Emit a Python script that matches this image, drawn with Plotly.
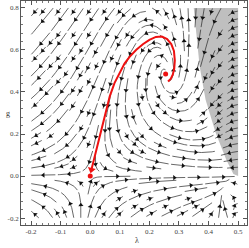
import math
import numpy as np
import plotly.graph_objects as go

# ---------------- data ----------------
LAM_RANGE = [-0.2, 0.5]          # stream-plot region (lambda)
G_RANGE = [-0.2, 0.8]            # stream-plot region (g)

fp_lam = [0.0, 0.255]            # Gaussian and non-Gaussian fixed points
fp_g = [0.0, 0.486]

red_lam = [0.004, 0.012, 0.022, 0.032, 0.042, 0.054, 0.066, 0.082, 0.099, 0.116,
           0.133, 0.155, 0.178, 0.200, 0.222, 0.242, 0.260, 0.274, 0.283, 0.286,
           0.284, 0.279, 0.272, 0.263]
red_g = [0.030, 0.075, 0.132, 0.190, 0.247, 0.315, 0.379, 0.442, 0.492, 0.535,
         0.567, 0.600, 0.627, 0.648, 0.662, 0.664, 0.652, 0.628, 0.595, 0.550,
         0.510, 0.482, 0.462, 0.450]

grey_lam = [0.350, 0.358, 0.370, 0.390, 0.424, 0.460, 0.484, 0.500, 0.500]
grey_g = [0.800, 0.680, 0.521, 0.363, 0.206, 0.078, 0.010, 0.000, 0.800]

x_tickvals = [-0.2, -0.1, 0.0, 0.1, 0.2, 0.3, 0.4, 0.5]
x_ticktext = ["-0.2", "-0.1", "0.0", "0.1", "0.2", "0.3", "0.4", "0.5"]
y_tickvals = [-0.2, 0.0, 0.2, 0.4, 0.6, 0.8]
y_ticktext = ["-0.2", "0.0", "0.2", "0.4", "0.6", "0.8"]

# flow model (Einstein-Hilbert type beta functions, coefficients tuned to the picture)
A_COEF = 6.755
Q_COEF = 8.30

# ---------------- vector field ----------------
def field(l, g):
    u = 1.0 / (1.0 - 2.0 * l)
    B1 = (5 * u - Q_COEF * u * u - 7) / (3 * math.pi)
    B2 = (6 * u * u - 5 * u) / (12 * math.pi)
    D = 1.0 - g * B2
    if abs(D) < 1e-9:
        return None
    eta = g * B1 / D
    bg = (2 + eta) * g
    bl = -(2 - eta) * l + g / (2 * math.pi) * (A_COEF * u - 4 - 5.0 / 6.0 * eta * u)
    return -bl, -bg, D   # arrows point towards the infrared

SX = 296.0      # px per unit lambda
SY = 210.5      # px per unit g
W = (LAM_RANGE[1] - LAM_RANGE[0]) * SX
H = (G_RANGE[1] - G_RANGE[0]) * SY


def to_data(X, Y):
    return LAM_RANGE[0] + X / SX, G_RANGE[0] + Y / SY


def direc(X, Y):
    l, g = to_data(X, Y)
    if l >= 0.4995:
        return None
    r = field(l, g)
    if r is None:
        return None
    fl, fg, D = r
    dx, dy = fl * SX, fg * SY
    n = math.hypot(dx, dy)
    if n == 0:
        return None
    return dx / n, dy / n, D


NX, NY = 27, 27
CW, CH = W / NX, H / NY
mask = np.zeros((NY, NX), dtype=bool)
fp_px = [((a - LAM_RANGE[0]) * SX, (b - G_RANGE[0]) * SY) for a, b in zip(fp_lam, fp_g)]


def cell(X, Y):
    return (min(NX - 1, max(0, int(X / CW))), min(NY - 1, max(0, int(Y / CH))))


def trace(X0, Y0, sign, visited, D0):
    pts = []
    X, Y = X0, Y0
    cur = cell(X, Y)
    h = 0.6
    for _ in range(3000):
        r = direc(X, Y)
        if r is None:
            break
        dx, dy, D = r
        dx *= sign; dy *= sign
        r2 = direc(X + 0.5 * h * dx, Y + 0.5 * h * dy)
        if r2 is None:
            break
        dx2, dy2, D2 = r2
        dx2 *= sign; dy2 *= sign
        if dx * dx2 + dy * dy2 < 0.5:
            break
        Xn, Yn = X + h * dx2, Y + h * dy2
        if Xn < 0 or Xn > W or Yn < 0 or Yn > H:
            break
        rn = direc(Xn, Yn)
        if rn is None or (rn[2] > 0) != (D0 > 0):
            break
        c = cell(Xn, Yn)
        if c != cur:
            if mask[c[1], c[0]] or c in visited:
                break
            visited.add(c)
            cur = c
        X, Y = Xn, Yn
        pts.append((X, Y))
        if any(math.hypot(X - fx, Y - fy) < 2.5 for fx, fy in fp_px):
            break
    return pts


# spiral seed order from the boundary inwards
order = []
x0, x1, y0, y1 = 0, NX - 1, 0, NY - 1
while x0 <= x1 and y0 <= y1:
    for i in range(x0, x1 + 1):
        order.append((i, y0))
    for j in range(y0 + 1, y1 + 1):
        order.append((x1, j))
    if y1 > y0:
        for i in range(x1 - 1, x0 - 1, -1):
            order.append((i, y1))
    if x1 > x0:
        for j in range(y1 - 1, y0, -1):
            order.append((x0, j))
    x0 += 1; x1 -= 1; y0 += 1; y1 -= 1

lines = []
for (i, j) in order:
    if mask[j, i]:
        continue
    Xs, Ys = (i + 0.5) * CW, (j + 0.5) * CH
    r = direc(Xs, Ys)
    if r is None:
        continue
    D0 = r[2]
    visited = {(i, j)}
    back = trace(Xs, Ys, -1, visited, D0)
    fwd = trace(Xs, Ys, 1, visited, D0)
    pts = back[::-1] + [(Xs, Ys)] + fwd
    if len(pts) < 3:
        continue
    P = np.array(pts)
    L = np.sum(np.hypot(np.diff(P[:, 0]), np.diff(P[:, 1])))
    if L < 7:
        continue
    for c in visited:
        mask[c[1], c[0]] = True
    lines.append(P)

# split into Mathematica-like pieces, one arrowhead per piece
seg_x, seg_y = [], []
arr_x, arr_y, arr_ang = [], [], []
SEG = 26.0
GAP = 2.5
for P in lines:
    s = np.concatenate([[0], np.cumsum(np.hypot(np.diff(P[:, 0]), np.diff(P[:, 1])))])
    L = s[-1]
    n = max(1, int(round(L / SEG)))
    ls = L / n
    for k in range(n):
        a = k * ls + (GAP / 2 if k > 0 else 0)
        b = (k + 1) * ls - (GAP / 2 if k < n - 1 else 0)
        ss = np.concatenate([[a], s[(s > a) & (s < b)], [b]])
        xs = np.interp(ss, s, P[:, 0]); ys = np.interp(ss, s, P[:, 1])
        for X, Y in zip(xs, ys):
            l, g = to_data(X, Y)
            seg_x.append(l); seg_y.append(g)
        seg_x.append(None); seg_y.append(None)
        m = 0.5 * (a + b)
        Xm = np.interp(m, s, P[:, 0]); Ym = np.interp(m, s, P[:, 1])
        X1 = np.interp(m + 1.0, s, P[:, 0]); Y1 = np.interp(m + 1.0, s, P[:, 1])
        X0 = np.interp(m - 1.0, s, P[:, 0]); Y0 = np.interp(m - 1.0, s, P[:, 1])
        l, g = to_data(Xm, Ym)
        arr_x.append(l); arr_y.append(g)
        arr_ang.append(math.degrees(math.atan2(X1 - X0, Y1 - Y0)))

# ---------------- figure ----------------
fig = go.Figure()
fig.add_trace(go.Scatter(x=grey_lam, y=grey_g, fill="toself", fillcolor="#bfbfbf",
                         mode="lines", line=dict(width=0), hoverinfo="skip", showlegend=False))
fig.add_trace(go.Scatter(x=seg_x, y=seg_y, mode="lines",
                         line=dict(color="#262626", width=0.7), hoverinfo="skip", showlegend=False))
fig.add_trace(go.Scatter(x=arr_x, y=arr_y, mode="markers",
                         marker=dict(symbol="triangle-up", size=4.5, color="#111111",
                                     angle=arr_ang, line=dict(width=0)),
                         hoverinfo="skip", showlegend=False))
fig.add_trace(go.Scatter(x=red_lam, y=red_g, mode="lines",
                         line=dict(color="#ee1111", width=2), hoverinfo="skip", showlegend=False))
# red arrowhead near the Gaussian fixed point
dxp = (red_lam[0] - red_lam[1]) * SX
dyp = (red_g[0] - red_g[1]) * SY
fig.add_trace(go.Scatter(x=[red_lam[0]], y=[red_g[0]], mode="markers",
                         marker=dict(symbol="triangle-up", size=7, color="#ee1111",
                                     angle=[math.degrees(math.atan2(dxp, dyp))], line=dict(width=0)),
                         hoverinfo="skip", showlegend=False))
fig.add_trace(go.Scatter(x=fp_lam, y=fp_g, mode="markers",
                         marker=dict(size=5, color="#ee1111"), hoverinfo="skip", showlegend=False))

axis_common = dict(showgrid=False, zeroline=False, showline=True, linecolor="#555555", linewidth=0.8,
                   mirror="ticks", ticks="inside", ticklen=4, tickcolor="#555555", tickwidth=0.7,
                   automargin=False,
                   tickfont=dict(family="Liberation Serif", size=7, color="#444444"))
fig.update_xaxes(range=[-0.234, 0.530], tickvals=x_tickvals, ticktext=x_ticktext,
                 minor=dict(dtick=0.02, tick0=0, ticks="inside", ticklen=2, tickcolor="#777777"),
                 **axis_common)
fig.update_yaxes(range=[-0.233, 0.833], tickvals=y_tickvals, ticktext=y_ticktext,
                 minor=dict(dtick=0.04, tick0=0, ticks="inside", ticklen=2, tickcolor="#777777"),
                 **axis_common)
fig.add_annotation(text="λ", xref="paper", yref="paper", x=0.515, y=-0.07, yanchor="middle",
                   showarrow=False, font=dict(family="Liberation Serif", size=8, color="#333333"))
fig.add_annotation(text="g", xref="paper", yref="paper", x=-0.076, y=0.5, yanchor="middle",
                   showarrow=False, font=dict(family="Liberation Serif", size=8, color="#333333"))
fig.update_layout(width=249, height=248, margin=dict(l=21, r=2, t=1, b=23, autoexpand=False),
                  paper_bgcolor="white", plot_bgcolor="white", showlegend=False)
fig.write_html("out.html", config={"displayModeBar": False},
               post_script="document.body.style.margin='0';document.body.style.overflow='hidden';")
